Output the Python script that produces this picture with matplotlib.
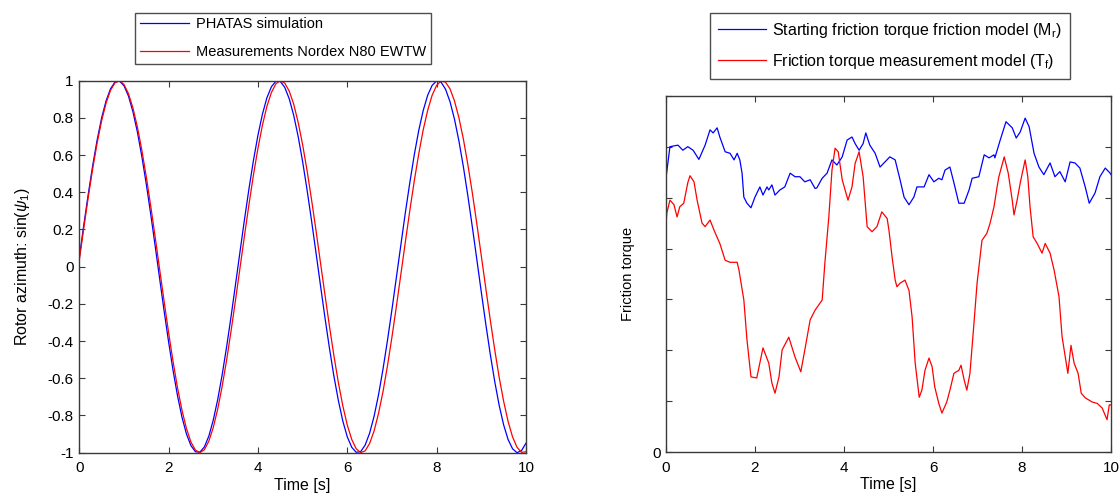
import numpy as np
import matplotlib
matplotlib.use("Agg")
import matplotlib.pyplot as plt

plt.rcParams["font.family"] = ["Liberation Sans", "DejaVu Sans"]
plt.rcParams["mathtext.fontset"] = "custom"
plt.rcParams["mathtext.rm"] = "Liberation Sans"
plt.rcParams["mathtext.it"] = "Liberation Sans:italic"

# ── Left panel: rotor azimuth, sampled every 0.1 s ──────────────────────────
TIME_AZ = [round(0.1 * i, 1) for i in range(101)]
PHATAS_SIM = [
    0.049, 0.223, 0.389, 0.544, 0.682, 0.800, 0.892, 0.957, 0.993, 0.998,
    0.973, 0.918, 0.834, 0.725, 0.593, 0.444, 0.281, 0.109, -0.066, -0.240,
    -0.405, -0.559, -0.695, -0.810, -0.900, -0.962, -0.995, -0.997, -0.969, -0.911,
    -0.824, -0.713, -0.579, -0.428, -0.264, -0.091, 0.084, 0.257, 0.421, 0.573,
    0.707, 0.820, 0.908, 0.967, 0.997, 0.996, 0.964, 0.903, 0.814, 0.700,
    0.565, 0.412, 0.247, 0.074, -0.101, -0.274, -0.437, -0.588, -0.719, -0.830,
    -0.915, -0.971, -0.998, -0.994, -0.959, -0.895, -0.804, -0.688, -0.550, -0.396,
    -0.230, -0.056, 0.118, 0.291, 0.452, 0.602, 0.733, 0.840, 0.922, 0.975,
    0.999, 0.992, 0.954, 0.887, 0.793, 0.675, 0.536, 0.380, 0.213, 0.039,
    -0.136, -0.307, -0.469, -0.616, -0.745, -0.850, -0.929, -0.979, -1.000, -0.989,
    -0.949,
]
MEAS_N80 = [
    0.035, 0.207, 0.373, 0.527, 0.666, 0.785, 0.880, 0.949, 0.989, 1.000,
    0.980, 0.931, 0.854, 0.752, 0.627, 0.483, 0.325, 0.157, -0.016, -0.188,
    -0.355, -0.511, -0.652, -0.773, -0.871, -0.943, -0.986, -1.000, -0.984, -0.938,
    -0.864, -0.764, -0.641, -0.500, -0.342, -0.175, -0.003, 0.170, 0.337, 0.495,
    0.637, 0.761, 0.862, 0.936, 0.983, 1.000, 0.987, 0.944, 0.874, 0.776,
    0.656, 0.516, 0.360, 0.194, 0.021, -0.151, -0.319, -0.478, -0.623, -0.748,
    -0.852, -0.929, -0.979, -1.000, -0.990, -0.950, -0.883, -0.788, -0.671, -0.532,
    -0.378, -0.212, -0.040, 0.133, 0.302, 0.462, 0.607, 0.736, 0.841, 0.922,
    0.975, 0.999, 0.992, 0.956, 0.891, 0.800, 0.685, 0.548, 0.396, 0.231,
    0.059, -0.114, -0.284, -0.445, -0.594, -0.723, -0.832, -0.915, -0.971, -0.998,
    -0.995,
]

# ── Right panel: friction torque (arbitrary units) ──────────────────────────
TIME_MR = [
    0.00, 0.09, 0.27, 0.38, 0.49, 0.61, 0.74, 0.88, 0.99, 1.06,
    1.15, 1.21, 1.33, 1.44, 1.53, 1.60, 1.66, 1.71, 1.75, 1.82,
    1.91, 2.00, 2.11, 2.18, 2.27, 2.31, 2.38, 2.45, 2.56, 2.67,
    2.79, 2.90, 3.01, 3.12, 3.24, 3.35, 3.39, 3.51, 3.62, 3.73,
    3.84, 3.96, 4.07, 4.18, 4.25, 4.34, 4.43, 4.49, 4.58, 4.70,
    4.81, 4.92, 5.03, 5.15, 5.26, 5.35, 5.46, 5.57, 5.64, 5.80,
    5.91, 6.02, 6.13, 6.20, 6.27, 6.38, 6.47, 6.58, 6.70, 6.81,
    6.88, 7.03, 7.15, 7.26, 7.37, 7.39, 7.51, 7.64, 7.78, 7.87,
    7.96, 8.07, 8.16, 8.27, 8.38, 8.49, 8.63, 8.74, 8.85, 8.97,
    9.08, 9.19, 9.30, 9.42, 9.51, 9.64, 9.75, 9.87, 9.98, 10.00,
]
TORQUE_MR = [
    5.38, 6.00, 6.03, 5.93, 6.00, 5.93, 5.75, 6.03, 6.33, 6.27,
    6.37, 6.19, 5.90, 5.87, 5.74, 5.87, 5.74, 5.48, 5.01, 4.89,
    4.80, 5.01, 5.21, 5.05, 5.21, 5.15, 5.25, 5.05, 5.15, 5.21,
    5.48, 5.41, 5.41, 5.31, 5.35, 5.18, 5.19, 5.38, 5.48, 5.74,
    5.64, 5.80, 6.13, 6.19, 6.06, 5.93, 6.06, 6.27, 6.03, 5.87,
    5.60, 5.70, 5.80, 5.74, 5.35, 5.01, 4.86, 5.01, 5.21, 5.21,
    5.45, 5.31, 5.38, 5.35, 5.54, 5.60, 5.29, 4.89, 4.89, 5.15,
    5.38, 5.41, 5.84, 5.78, 5.84, 5.78, 6.13, 6.49, 6.37, 6.17,
    6.29, 6.56, 6.39, 5.87, 5.60, 5.45, 5.68, 5.41, 5.51, 5.31,
    5.70, 5.68, 5.58, 5.21, 4.89, 5.09, 5.41, 5.58, 5.48, 5.45,
]

TIME_TF = [
    0.00, 0.02, 0.09, 0.18, 0.25, 0.31, 0.40, 0.49, 0.54, 0.63,
    0.70, 0.81, 0.88, 0.99, 1.08, 1.21, 1.33, 1.44, 1.60, 1.64,
    1.75, 1.82, 1.91, 2.04, 2.18, 2.31, 2.38, 2.45, 2.54, 2.61,
    2.76, 2.90, 3.03, 3.12, 3.24, 3.35, 3.51, 3.57, 3.66, 3.73,
    3.80, 3.87, 3.96, 4.09, 4.18, 4.25, 4.34, 4.43, 4.52, 4.63,
    4.74, 4.85, 4.97, 5.01, 5.08, 5.15, 5.19, 5.26, 5.37, 5.46,
    5.53, 5.60, 5.69, 5.75, 5.82, 5.91, 5.98, 6.04, 6.13, 6.20,
    6.31, 6.38, 6.47, 6.58, 6.63, 6.70, 6.76, 6.83, 6.92, 6.99,
    7.10, 7.21, 7.28, 7.37, 7.44, 7.48, 7.60, 7.69, 7.78, 7.82,
    7.89, 7.96, 8.07, 8.13, 8.18, 8.25, 8.34, 8.45, 8.52, 8.63,
    8.72, 8.83, 8.90, 8.97, 9.03, 9.10, 9.17, 9.26, 9.33, 9.42,
    9.57, 9.69, 9.80, 9.91, 9.96, 10.00,
]
TORQUE_TF = [
    4.46, 4.70, 4.95, 4.86, 4.62, 4.82, 4.89, 5.29, 5.43, 5.31,
    4.95, 4.50, 4.43, 4.56, 4.36, 4.10, 3.77, 3.73, 3.73, 3.58,
    2.99, 2.21, 1.48, 1.46, 2.05, 1.75, 1.36, 1.16, 1.48, 2.01,
    2.26, 1.87, 1.58, 2.01, 2.60, 2.79, 2.99, 3.71, 4.63, 5.54,
    5.97, 5.90, 5.35, 4.95, 5.21, 5.67, 5.90, 5.41, 4.43, 4.33,
    4.43, 4.72, 4.59, 4.36, 3.84, 3.38, 3.25, 3.32, 3.38, 3.18,
    2.66, 1.75, 1.08, 1.22, 1.61, 1.85, 1.68, 1.28, 0.96, 0.77,
    0.99, 1.22, 1.55, 1.61, 1.71, 1.42, 1.22, 1.55, 2.53, 3.32,
    4.16, 4.30, 4.49, 4.82, 5.21, 5.41, 5.80, 5.48, 4.95, 4.66,
    4.95, 5.29, 5.74, 5.41, 4.82, 4.23, 4.10, 3.91, 4.10, 3.91,
    3.58, 3.06, 2.27, 1.88, 1.55, 2.10, 1.75, 1.55, 1.16, 1.07,
    0.99, 0.96, 0.87, 0.64, 0.93, 0.93,
]

X_TICKS = [0, 2, 4, 6, 8, 10]
AZ_TICKS = [round(-1 + 0.2 * i, 1) for i in range(11)]
TORQUE_TICKS = list(range(8))
TORQUE_TICK_LABELS = ["0"] + [""] * 7

SPINE = "#3a3a3a"
FS_TICK = 11
FS_LABEL = 11.5


def style_axes(ax):
    for sp in ax.spines.values():
        sp.set_color(SPINE)
        sp.set_linewidth(1.0)
    ax.tick_params(direction="in", top=True, right=True, length=4,
                   width=0.8, color=SPINE, labelsize=FS_TICK)
    ax.tick_params(axis="x", pad=6)
    ax.tick_params(axis="y", pad=4)


fig = plt.figure(figsize=(11.2, 4.96), dpi=100)

# ── Left: azimuth comparison ────────────────────────────────────────────────
ax1 = fig.add_axes([0.0708, 0.0873, 0.3988, 0.75])
ax1.plot(TIME_AZ, PHATAS_SIM, color="blue", lw=0.9, label="PHATAS simulation")
ax1.plot(TIME_AZ, MEAS_N80, color="red", lw=0.9, label="Measurements Nordex N80 EWTW")
ax1.set_xlim(0, 10)
ax1.set_ylim(-1, 1)
ax1.set_xticks(X_TICKS)
ax1.set_yticks(AZ_TICKS)
ax1.set_yticklabels([f"{v:g}" for v in AZ_TICKS])
ax1.set_xlabel("Time [s]", fontsize=FS_LABEL, labelpad=2)
ax1.set_ylabel(r"Rotor azimuth: sin($\psi_1$)", fontsize=FS_LABEL, labelpad=11)
style_axes(ax1)
ax1.legend(loc="upper center", bbox_to_anchor=(0.2527, 0.974),
           bbox_transform=fig.transFigure, borderaxespad=0, fontsize=10.5,
           frameon=True, fancybox=False, edgecolor="#222222", handlelength=3.4,
           borderpad=0.3, labelspacing=0.95, handletextpad=0.5)

# ── Right: friction torque models ───────────────────────────────────────────
ax2 = fig.add_axes([0.5946, 0.0881, 0.3974, 0.7189])
ax2.plot(TIME_MR, TORQUE_MR, color="blue", lw=0.9,
         label=r"Starting friction torque friction model (M$_\mathrm{r}$)")
ax2.plot(TIME_TF, TORQUE_TF, color="red", lw=0.9,
         label=r"Friction torque measurement model (T$_\mathrm{f}$)")
ax2.set_xlim(0, 10)
ax2.set_ylim(0, 7)
ax2.set_xticks(X_TICKS)
ax2.set_yticks(TORQUE_TICKS)
ax2.set_yticklabels(TORQUE_TICK_LABELS)
ax2.set_xlabel("Time [s]", fontsize=FS_LABEL, labelpad=2)
ax2.set_ylabel("Friction torque", fontsize=10.5, labelpad=12)
style_axes(ax2)
ax2.legend(loc="upper center", bbox_to_anchor=(0.7946, 0.974),
           bbox_transform=fig.transFigure, borderaxespad=0, fontsize=11.5,
           frameon=True, fancybox=False, edgecolor="#222222", handlelength=3.0,
           borderpad=0.5, labelspacing=0.75, handletextpad=0.35)

fig.savefig("out.png", dpi=100)
